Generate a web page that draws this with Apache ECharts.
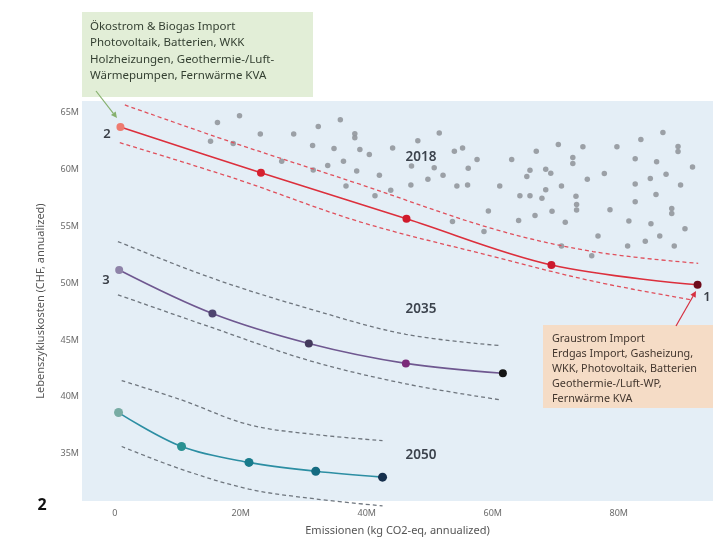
<!DOCTYPE html>
<html>
<head>
<meta charset="utf-8">
<script src="https://cdn.jsdelivr.net/npm/echarts@6/dist/echarts.min.js"></script>
<style>
html, body { margin: 0; padding: 0; background: #fff; }
#main { width: 713px; height: 541px; }
</style>
</head>
<body>
<div id="main"></div>
<script>
// alle Werte in Millionen
var xTicks = [0, 20, 40, 60, 80];
var yTicks = [35, 40, 45, 50, 55, 60, 65];

// 2018
var x2018 = [0.9, 23.2, 46.3, 69.3, 92.5];
var y2018 = [63.75, 59.74, 55.67, 51.60, 49.86];
var x2018Hi = [1.6, 18.8, 38.9, 60.0, 75.9, 92.6];
var y2018Hi = [65.70, 62.38, 58.72, 54.80, 52.79, 51.75];
var x2018Lo = [0.8, 19.4, 38.9, 60.0, 75.9, 91.7];
var y2018Lo = [62.38, 59.16, 55.41, 52.36, 50.18, 48.52];

// 2035
var x2035 = [0.7, 15.5, 30.8, 46.2, 61.6];
var y2035 = [51.16, 47.33, 44.69, 42.94, 42.07];
var x2035Hi = [0.5, 15.5, 31.3, 46.2, 61.1];
var y2035Hi = [53.67, 50.44, 47.68, 45.50, 44.51];
var x2035Lo = [0.5, 15.5, 30.8, 46.2, 61.1];
var y2035Lo = [48.98, 46.08, 43.20, 41.14, 39.74];

// 2050
var x2050 = [0.6, 10.6, 21.3, 31.9, 42.5];
var y2050 = [38.61, 35.62, 34.22, 33.44, 32.92];
var x2050Hi = [1.1, 10.6, 21.3, 31.9, 42.5];
var y2050Hi = [41.43, 39.72, 37.54, 36.67, 36.14];
var x2050Lo = [1.1, 10.6, 21.3, 31.9, 42.5];
var y2050Lo = [35.62, 33.61, 31.87, 31.00, 30.39];

// Varianten 2018 (grau)
var scatterX = [16.3, 19.8, 23.1, 28.4, 32.3, 35.8, 38.1, 38.1, 15.2, 18.8, 31.4, 34.8, 38.9, 40.4, 44.1,
  26.5, 31.5, 33.8, 36.3, 38.4, 36.7, 42.0, 41.3, 43.8, 51.5, 48.1, 53.9, 55.2, 57.5, 63.0,
  66.9, 47.1, 50.7, 56.1, 65.9, 65.4, 49.7, 52.1, 47.0, 54.3, 56.0, 61.1, 64.3, 65.9, 59.3,
  66.7, 53.6, 64.1, 58.6, 87.0, 83.5, 89.4, 89.4, 70.4, 74.3, 79.7, 72.7, 72.7, 82.6, 86.0,
  91.7, 68.4, 69.2, 77.7, 87.5, 75.0, 85.0, 70.9, 82.6, 89.8, 68.4, 67.8, 73.2, 85.9, 82.6,
  73.3, 73.3, 78.6, 88.4, 88.4, 69.4, 71.5, 81.6, 85.1, 90.5, 76.7, 86.5, 84.2, 81.4, 88.8,
  70.9, 75.7];
var scatterY = [64.15, 64.76, 63.14, 63.14, 63.81, 64.39, 63.17, 62.82, 62.50, 62.30, 62.12, 61.86, 61.77, 61.34, 61.92,
  60.75, 59.97, 60.38, 60.75, 59.88, 58.57, 59.51, 57.70, 58.20, 63.23, 62.56, 61.63, 61.92, 60.90, 60.90,
  61.63, 60.32, 60.18, 60.12, 59.94, 59.39, 59.16, 59.51, 58.66, 58.57, 58.66, 58.57, 57.70, 57.70, 56.37,
  55.96, 55.44, 55.52, 54.56, 63.28, 62.65, 62.04, 61.60, 62.21, 62.01, 62.01, 61.08, 60.55, 60.96, 60.70,
  60.23, 60.03, 59.68, 59.66, 59.59, 59.16, 59.22, 58.57, 58.75, 58.66, 58.23, 57.48, 57.65, 57.82, 57.18,
  56.94, 56.46, 56.48, 56.59, 56.15, 56.34, 55.38, 55.47, 55.24, 54.80, 54.16, 54.16, 53.69, 53.29, 53.29,
  53.29, 52.42];

var colors2018 = ['#ee7b70', '#d6212f', '#d01a2b', '#cc1a2e', '#6e0a1a'];
var colors2035 = ['#8e83a8', '#4e446f', '#433a5c', '#7b2a79', '#141414'];
var colors2050 = ['#78aca4', '#2a9192', '#187b8b', '#156b81', '#152f4d'];

function zip(xs, ys) {
    var out = [];
    for (var i = 0; i < xs.length; i++) {
        out.push([xs[i], ys[i]]);
    }
    return out;
}

function markers(xs, ys, colors) {
    var out = [];
    for (var i = 0; i < xs.length; i++) {
        out.push({ value: [xs[i], ys[i]], itemStyle: { color: colors[i] } });
    }
    return out;
}

function mainLine(xs, ys, colors, lineColor, size) {
    return {
        type: 'line', smooth: 0.35, z: 5,
        data: markers(xs, ys, colors),
        symbol: 'circle', symbolSize: size,
        lineStyle: { color: lineColor, width: 1.6 },
        itemStyle: { borderWidth: 0 }
    };
}

function bandLine(xs, ys, color) {
    return {
        type: 'line', smooth: 0.35, z: 4, clip: false,
        data: zip(xs, ys),
        symbol: 'none',
        lineStyle: { color: color, width: 1.3, type: [4, 3] }
    };
}

// Pfeil mit Spitze als graphic-Elemente
function arrow(x1, y1, x2, y2, color) {
    var a = Math.atan2(y2 - y1, x2 - x1), L = 6, W = 3;
    var bx = x2 - L * Math.cos(a), by = y2 - L * Math.sin(a);
    return [{
        type: 'line', z: 20,
        shape: { x1: x1, y1: y1, x2: bx, y2: by },
        style: { stroke: color, lineWidth: 1.2 }
    }, {
        type: 'polygon', z: 20,
        shape: { points: [[x2, y2],
            [bx + W * Math.sin(a), by - W * Math.cos(a)],
            [bx - W * Math.sin(a), by + W * Math.cos(a)]] },
        style: { fill: color }
    }];
}

var font = '"Noto Sans", "Open Sans", sans-serif';

function txt(x, y, s, size, weight, color, align) {
    return {
        type: 'text', z: 30, x: x, y: y,
        style: {
            text: s, fontFamily: font, fontSize: size, fontWeight: weight,
            fill: color, align: align || 'center', verticalAlign: 'middle'
        }
    };
}

var chart = echarts.init(document.getElementById('main'));

var graphics = [
    { type: 'rect', z: 10, shape: { x: 82, y: 12, width: 231, height: 85 }, style: { fill: '#e2eed7' } },
    { type: 'rect', z: 10, shape: { x: 543, y: 325, width: 170, height: 83 }, style: { fill: '#f5dcc6' } },
    {
        type: 'text', z: 30, x: 90, y: 18,
        style: {
            text: 'Ökostrom & Biogas Import\nPhotovoltaik, Batterien, WKK\nHolzheizungen, Geothermie-/Luft-\nWärmepumpen, Fernwärme KVA',
            fontFamily: font, fontSize: 11.5, lineHeight: 16.5, fill: '#344032'
        }
    },
    {
        type: 'text', z: 30, x: 552, y: 331,
        style: {
            text: 'Graustrom Import\nErdgas Import, Gasheizung,\nWKK, Photovoltaik, Batterien\nGeothermie-/Luft-WP,\nFernwärme KVA',
            fontFamily: font, fontSize: 10.8, lineHeight: 15, fill: '#43372f'
        }
    },
    txt(421, 157, '2018', 13.5, 600, '#3b424c'),
    txt(421, 309, '2035', 13.5, 600, '#3b424c'),
    txt(421, 455, '2050', 13.5, 600, '#3b424c'),
    txt(107, 134, '2', 13, 600, '#3a3f47'),
    txt(106, 280, '3', 13, 600, '#3a3f47'),
    txt(707, 297, '1', 13, 600, '#3a3f47'),
    txt(42, 505, '2', 16, 'bold', '#111')
].concat(arrow(96, 91, 117, 118, '#86b06e'), arrow(676, 326, 696, 291, '#d63040'));

var option = {
    animation: false,
    grid: {
        left: 82, right: 0, top: 101, bottom: 36,
        show: true, backgroundColor: '#e4eef6', borderWidth: 0
    },
    xAxis: {
        type: 'value', min: -5.2, max: 94.95,
        name: 'Emissionen (kg CO2-eq, annualized)',
        nameLocation: 'middle', nameGap: 24,
        nameTextStyle: { fontFamily: font, fontSize: 11, color: '#555' },
        axisLine: { show: false }, axisTick: { show: false }, splitLine: { show: false },
        axisLabel: {
            customValues: xTicks, margin: 8,
            fontFamily: font, fontSize: 9, color: '#6a6a6a',
            formatter: function (v) { return v === 0 ? '0' : v + 'M'; }
        }
    },
    yAxis: {
        type: 'value', min: 30.82, max: 66.05,
        name: 'Lebenszykluskosten (CHF, annualized)',
        nameLocation: 'middle', nameGap: 36,
        nameTextStyle: { fontFamily: font, fontSize: 11, color: '#555' },
        axisLine: { show: false }, axisTick: { show: false }, splitLine: { show: false },
        axisLabel: {
            customValues: yTicks, margin: 3,
            fontFamily: font, fontSize: 9, color: '#6a6a6a',
            formatter: function (v) { return v + 'M'; }
        }
    },
    series: [
        {
            type: 'scatter', z: 2,
            data: zip(scatterX, scatterY),
            symbolSize: 5.5,
            itemStyle: { color: '#92979d', opacity: 0.9 }
        },
        bandLine(x2018Hi, y2018Hi, '#e0505c'),
        bandLine(x2018Lo, y2018Lo, '#e0505c'),
        bandLine(x2035Hi, y2035Hi, '#6f767e'),
        bandLine(x2035Lo, y2035Lo, '#6f767e'),
        bandLine(x2050Hi, y2050Hi, '#6f767e'),
        bandLine(x2050Lo, y2050Lo, '#6f767e'),
        mainLine(x2018, y2018, colors2018, '#dc2f3c', 8),
        mainLine(x2035, y2035, colors2035, '#6f5890', 8),
        mainLine(x2050, y2050, colors2050, '#2c8ea3', 9)
    ],
    graphic: graphics
};

chart.setOption(option);
</script>
</body>
</html>
